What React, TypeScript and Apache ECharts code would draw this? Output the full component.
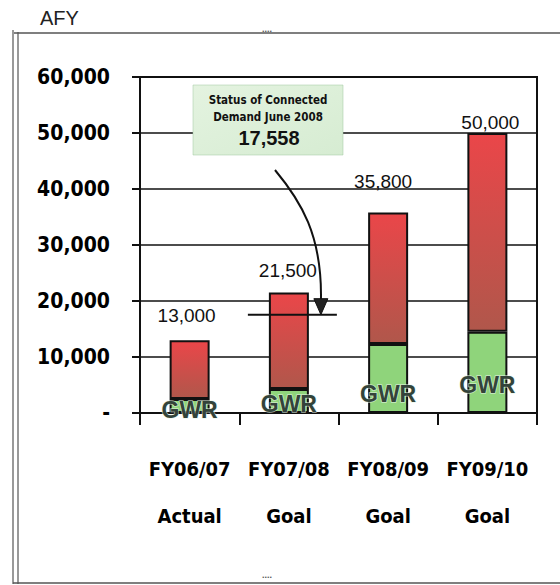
import React, { useEffect, useRef } from "react";
import * as echarts from "echarts";

const categories = ["FY06/07\nActual", "FY07/08\nGoal", "FY08/09\nGoal", "FY09/10\nGoal"];
const totals = [13000, 21500, 35800, 50000];
const gwr = [2500, 4300, 12300, 14500];
const connectedDemand = 17558;
const connectedIndex = 1;
const annotationLines = ["Status of Connected", "Demand June 2008", "17,558"];
const gwrLabel = "GWR";
const unitLabel = "AFY";

// label styling tweaks (pixels)
const totalLabelDist = [15, 13, 22, 1];
const totalLabelDx = [-3, -1, -5, 3];
const gwrLabelDy = [8, 2, -8, -17];

const NARROW = "'DejaVu Sans Condensed', 'Liberation Sans Narrow', sans-serif";
const ARIAL = "'Liberation Sans', Arial, sans-serif";

export default function App() {
  const ref = useRef<HTMLDivElement>(null);
  useEffect(() => {
    if (!ref.current) return;
    const chart = echarts.init(ref.current, undefined, { renderer: "svg" });
    const redData = totals.map((t, i) => ({
      value: t - gwr[i],
      label: { distance: totalLabelDist[i], offset: [totalLabelDx[i], 0] },
    }));
    const greenData = gwr.map((g, i) => ({
      value: g,
      label: { offset: [0, gwrLabelDy[i]] },
    }));
    chart.setOption({
      animation: false,
      backgroundColor: "#ffffff",
      grid: {
        left: 140,
        right: 23,
        top: 77,
        bottom: 172,
        show: true,
        borderColor: "#111",
        borderWidth: 2,
        backgroundColor: "transparent",
      },
      xAxis: {
        type: "category",
        data: categories,
        axisLine: { show: true, lineStyle: { color: "#111", width: 2 } },
        axisTick: { show: true, length: 12, lineStyle: { color: "#111", width: 2 } },
        axisLabel: {
          interval: 0,
          fontFamily: NARROW,
          fontWeight: "bold",
          fontSize: 20,
          color: "#000",
          lineHeight: 47,
          margin: 32,
        },
      },
      yAxis: {
        type: "value",
        min: 0,
        max: 60000,
        interval: 10000,
        axisLine: { show: true, lineStyle: { color: "#111", width: 2 } },
        axisTick: { show: true, length: 8, lineStyle: { color: "#111", width: 2 } },
        splitLine: { show: true, lineStyle: { color: "#111", width: 1.6 } },
        axisLabel: {
          fontFamily: NARROW,
          fontWeight: "bold",
          fontSize: 21,
          color: "#000",
          margin: 30,
          formatter: (v: number) => (v === 0 ? "-" : v.toLocaleString("en-US")),
        },
      },
      series: [
        {
          type: "bar",
          stack: "total",
          barWidth: 40,
          data: greenData,
          itemStyle: { color: "#8fd47b", borderColor: "#111", borderWidth: 2 },
          label: {
            show: true,
            position: "insideBottom",
            distance: 0,
            formatter: gwrLabel,
            fontFamily: ARIAL,
            fontWeight: "bold",
            fontSize: 23,
            color: "#33433a",
            textBorderColor: "rgba(230,245,230,0.7)",
            textBorderWidth: 1.5,
          },
        },
        {
          type: "bar",
          stack: "total",
          barWidth: 40,
          data: redData,
          itemStyle: {
            color: new echarts.graphic.LinearGradient(0, 0, 0, 1, [
              { offset: 0, color: "#ea4649" },
              { offset: 1, color: "#b0574b" },
            ]),
            borderColor: "#111",
            borderWidth: 2,
          },
          label: {
            show: true,
            position: "top",
            fontFamily: ARIAL,
            fontSize: 19,
            color: "#111",
            formatter: (p: any) => totals[p.dataIndex].toLocaleString("en-US"),
          },
        },
      ],
    });

    const [cx, ly] = chart.convertToPixel({ gridIndex: 0 }, [connectedIndex, connectedDemand]) as number[];

    chart.setOption({
      graphic: [
        // outer scanned frame
        { type: "line", z: 100, shape: { x1: 14, y1: 33, x2: 560, y2: 33 }, style: { stroke: "#555", lineWidth: 1.5 } },
        { type: "line", z: 100, shape: { x1: 13, y1: 30, x2: 13, y2: 584 }, style: { stroke: "#555", lineWidth: 1.2 } },
        { type: "line", z: 100, shape: { x1: 18, y1: 32, x2: 18, y2: 584 }, style: { stroke: "#555", lineWidth: 1.2 } },
        { type: "line", z: 100, shape: { x1: 13, y1: 583, x2: 560, y2: 583 }, style: { stroke: "#555", lineWidth: 1.5 } },
        { type: "text", z: 100, x: 262, y: 24, style: { text: "....", font: "bold 9px sans-serif", fill: "#555" } },
        { type: "text", z: 100, x: 262, y: 570, style: { text: "....", font: "bold 9px sans-serif", fill: "#555" } },
        {
          type: "text",
          z: 100,
          x: 40,
          y: 8,
          style: { text: unitLabel, font: `20px ${ARIAL}`, fill: "#222" },
        },
        // annotation box
        {
          type: "rect",
          z: 100,
          shape: { x: 193, y: 85, width: 150, height: 70 },
          style: {
            fill: new echarts.graphic.LinearGradient(0, 0, 1, 1, [
              { offset: 0, color: "#e4f3e0" },
              { offset: 1, color: "#d6ecd2" },
            ]),
            stroke: "rgba(160,200,160,0.5)",
            lineWidth: 1,
          },
        },
        {
          type: "text",
          z: 101,
          x: 268,
          y: 100,
          style: {
            text: annotationLines[0],
            font: `bold 11.5px ${NARROW}`,
            fill: "#111",
            align: "center",
            verticalAlign: "middle",
          },
        },
        {
          type: "text",
          z: 101,
          x: 268,
          y: 117,
          style: {
            text: annotationLines[1],
            font: `bold 11.5px ${NARROW}`,
            fill: "#111",
            align: "center",
            verticalAlign: "middle",
          },
        },
        {
          type: "text",
          z: 101,
          x: 269,
          y: 138,
          style: {
            text: annotationLines[2],
            font: `bold 20px ${ARIAL}`,
            fill: "#111",
            align: "center",
            verticalAlign: "middle",
          },
        },
        // connected demand marker line
        {
          type: "line",
          z: 100,
          shape: { x1: cx - 41, y1: ly, x2: cx + 48, y2: ly },
          style: { stroke: "#111", lineWidth: 2 },
        },
        // curved arrow
        {
          type: "bezierCurve",
          z: 100,
          shape: {
            x1: 275,
            y1: 170,
            cpx1: 300,
            cpy1: 200,
            cpx2: cx + 34,
            cpy2: 235,
            x2: cx + 32,
            y2: ly - 12,
          },
          style: { stroke: "#111", lineWidth: 2, fill: null },
        },
        {
          type: "polygon",
          z: 100,
          shape: {
            points: [
              [cx + 25, ly - 16],
              [cx + 39, ly - 16],
              [cx + 32, ly],
            ],
          },
          style: { fill: "#222", stroke: "#111", lineWidth: 1 },
        },
      ],
    });
    return () => chart.dispose();
  }, []);
  return (
    <div
      ref={ref}
      style={{ position: "absolute", left: 0, top: 0, width: 560, height: 585 }}
    />
  );
}
